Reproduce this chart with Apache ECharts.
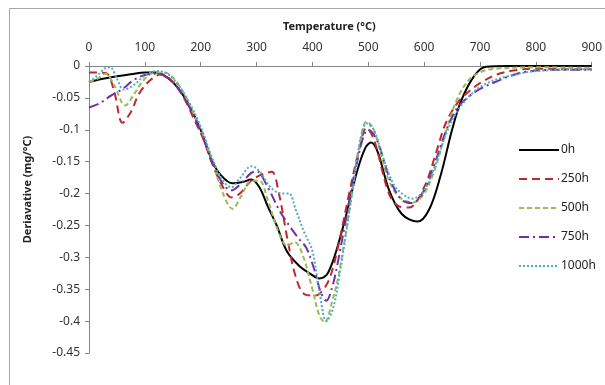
<!DOCTYPE html>
<html><head><meta charset="utf-8">
<script src="https://cdn.jsdelivr.net/npm/echarts@6/dist/echarts.min.js"></script>
<style>html,body{margin:0;padding:0;background:#fff}#c{width:605px;height:385px}</style>
</head><body><div id="c"></div>
<script>
const seriesNames = ['0h', '250h', '500h', '750h', '1000h'];
const xTicks = [0, 100, 200, 300, 400, 500, 600, 700, 800, 900];
const yTicks = [0, -0.05, -0.1, -0.15, -0.2, -0.25, -0.3, -0.35, -0.4, -0.45];

const h0 = [[0,-0.025],[25,-0.02],[50,-0.016],[75,-0.013],[100,-0.01],[120,-0.01],[140,-0.018],[160,-0.035],[180,-0.063],[200,-0.1],[220,-0.148],[235,-0.17],[257,-0.184],[275,-0.182],[290,-0.178],[305,-0.19],[320,-0.22],[336,-0.25],[354,-0.29],[377,-0.314],[395,-0.325],[412,-0.333],[425,-0.328],[435,-0.31],[445,-0.283],[460,-0.235],[480,-0.165],[495,-0.128],[505,-0.12],[517,-0.135],[537,-0.194],[560,-0.232],[588,-0.244],[609,-0.225],[630,-0.17],[650,-0.1],[666,-0.055],[690,-0.015],[711,-0.001],[750,0],[800,0],[900,0]];
const h250 = [[0,-0.01],[30,-0.011],[45,-0.04],[60,-0.089],[75,-0.072],[90,-0.043],[110,-0.022],[130,-0.013],[150,-0.025],[170,-0.05],[190,-0.087],[205,-0.115],[220,-0.152],[240,-0.19],[255,-0.206],[270,-0.2],[290,-0.18],[310,-0.17],[327,-0.166],[340,-0.2],[355,-0.27],[370,-0.33],[386,-0.358],[405,-0.36],[420,-0.35],[432,-0.33],[445,-0.287],[466,-0.199],[484,-0.13],[497,-0.097],[510,-0.115],[537,-0.2],[555,-0.22],[573,-0.222],[600,-0.19],[620,-0.14],[639,-0.089],[662,-0.055],[680,-0.04],[700,-0.027],[728,-0.014],[760,-0.007],[800,-0.004],[850,-0.005],[900,-0.005]];
const h500 = [[0,-0.025],[15,-0.02],[30,-0.012],[45,-0.03],[65,-0.062],[80,-0.045],[100,-0.02],[120,-0.01],[135,-0.01],[150,-0.018],[170,-0.043],[190,-0.08],[205,-0.11],[220,-0.148],[240,-0.2],[257,-0.224],[272,-0.205],[290,-0.18],[305,-0.18],[320,-0.21],[340,-0.262],[355,-0.282],[368,-0.276],[382,-0.295],[400,-0.35],[412,-0.39],[422,-0.402],[435,-0.37],[448,-0.323],[471,-0.199],[485,-0.12],[497,-0.087],[510,-0.1],[535,-0.175],[555,-0.205],[580,-0.214],[600,-0.2],[620,-0.16],[640,-0.1],[660,-0.05],[680,-0.022],[700,-0.01],[720,-0.005],[800,-0.002],[900,-0.003]];
const h750 = [[0,-0.065],[20,-0.058],[40,-0.046],[60,-0.036],[80,-0.022],[100,-0.014],[120,-0.012],[140,-0.018],[160,-0.036],[180,-0.065],[200,-0.103],[220,-0.15],[240,-0.185],[255,-0.195],[270,-0.186],[290,-0.168],[300,-0.165],[320,-0.19],[340,-0.225],[359,-0.251],[375,-0.27],[389,-0.285],[400,-0.31],[407,-0.33],[415,-0.355],[425,-0.368],[435,-0.348],[445,-0.31],[460,-0.24],[480,-0.15],[500,-0.1],[515,-0.115],[540,-0.18],[560,-0.21],[578,-0.215],[600,-0.195],[620,-0.15],[640,-0.1],[660,-0.065],[680,-0.048],[700,-0.036],[722,-0.027],[750,-0.017],[782,-0.009],[840,-0.006],[900,-0.006]];
const h1000 = [[0,-0.025],[15,-0.015],[30,-0.003],[38,-0.002],[50,-0.02],[62,-0.037],[80,-0.03],[100,-0.015],[120,-0.008],[140,-0.012],[160,-0.03],[180,-0.058],[200,-0.095],[220,-0.143],[240,-0.18],[255,-0.19],[270,-0.176],[291,-0.157],[305,-0.165],[325,-0.19],[345,-0.2],[358,-0.2],[370,-0.225],[385,-0.26],[400,-0.29],[412,-0.35],[425,-0.4],[437,-0.38],[448,-0.33],[471,-0.2],[485,-0.12],[497,-0.09],[510,-0.1],[525,-0.14],[545,-0.185],[560,-0.2],[579,-0.208],[600,-0.195],[620,-0.155],[640,-0.105],[660,-0.07],[686,-0.043],[710,-0.028],[746,-0.017],[800,-0.008],[900,-0.005]];

const dataSets = [h0, h250, h500, h750, h1000];
const colors = ['#000000', '#C0282D', '#9BBB59', '#7030A0', '#4BACC6'];
const dashes = ['solid', [8, 5], [5, 3], [10, 4, 2, 4], [2, 2]];

const chart = echarts.init(document.getElementById('c'), null, {renderer: 'canvas'});
const fmt = v => String(+(+v).toFixed(2));
chart.setOption({
  animation: false,
  backgroundColor: '#fff',
  textStyle: {fontFamily: 'Noto Sans'},
  graphic: [{type: 'rect', shape: {x: 9.5, y: 8.5, width: 700, height: 500}, style: {fill: 'none', stroke: '#a6a6a6', lineWidth: 1}, silent: true, z: -1}],
  grid: {left: 89, top: 66, right: 12, bottom: 32},
  legend: {
    orient: 'vertical', left: 513, top: 139, itemGap: 17, itemWidth: 40, itemHeight: 12,
    data: seriesNames,
    itemStyle: {opacity: 0},
    textStyle: {fontSize: 12, color: '#222', fontFamily: 'Noto Sans', padding: [0, 0, 0, -3]}
  },
  xAxis: {
    type: 'value', position: 'top', min: 0, max: 900, interval: 100,
    name: 'Temperature (°C)', nameLocation: 'middle', nameGap: 34,
    nameTextStyle: {fontWeight: 'bold', fontSize: 11, color: '#222', padding: [0, 22, 0, 0]},
    axisLine: {lineStyle: {color: '#868686'}},
    axisTick: {show: true, length: 4, lineStyle: {color: '#868686'}},
    axisLabel: {fontSize: 12, color: '#333', margin: 12},
    splitLine: {show: false}
  },
  yAxis: {
    type: 'value', min: -0.45, max: 0, interval: 0.05,
    name: 'Deriavative (mg/°C)', nameLocation: 'middle', nameGap: 56,
    nameTextStyle: {fontWeight: 'bold', fontSize: 11, color: '#222', padding: [0, 0, 0, 40]},
    axisLine: {show: true, lineStyle: {color: '#868686'}},
    axisTick: {show: true, length: 4, lineStyle: {color: '#868686'}},
    axisLabel: {fontSize: 12, color: '#333', margin: 9, formatter: fmt},
    splitLine: {show: false}
  },
  series: seriesNames.map((n, i) => ({
    name: n, type: 'line', data: dataSets[i], smooth: 0.35, symbol: 'none',
    lineStyle: {color: colors[i], width: 2, type: dashes[i]},
    itemStyle: {color: colors[i]}
  }))
});
</script></body></html>
